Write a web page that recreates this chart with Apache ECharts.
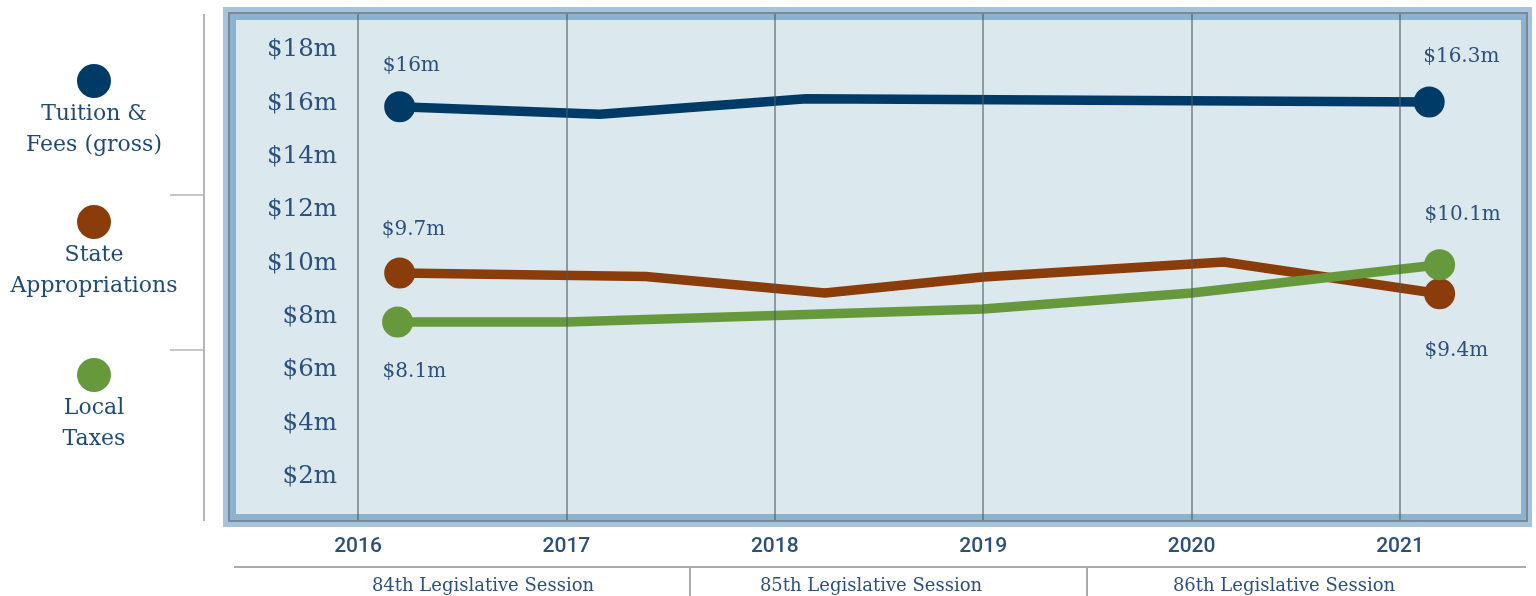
<!DOCTYPE html>
<html>
<head>
<meta charset="utf-8">
<script src="https://cdn.jsdelivr.net/npm/echarts@6/dist/echarts.min.js"></script>
<style>
  html, body { margin: 0; padding: 0; background: #ffffff; }
  #chart { width: 1536px; height: 596px; }
</style>
</head>
<body>
<div id="chart"></div>
<script>
// ---- data ----
const seriesNames = ['Tuition & Fees (gross)', 'State Appropriations', 'Local Taxes'];
const legendLines = [['Tuition &', 'Fees (gross)'], ['State', 'Appropriations'], ['Local', 'Taxes']];
const yearLabels = ['2016', '2017', '2018', '2019', '2020', '2021'];
const yTickLabels = ['$2m', '$4m', '$6m', '$8m', '$10m', '$12m', '$14m', '$16m', '$18m'];
const sessionLabels = ['84th Legislative Session', '85th Legislative Session', '86th Legislative Session'];

const tuitionYears = [2016.2, 2017.16, 2018.15, 2021.14];
const tuitionValues = [15.87, 15.59, 16.17, 16.05];
const tuitionEndLabels = ['$16m', '$16.3m'];

const stateYears = [2016.2, 2017.38, 2018.24, 2019.0, 2020.155, 2021.19];
const stateValues = [9.64, 9.51, 8.89, 9.49, 10.05, 8.86];
const stateEndLabels = ['$9.7m', '$9.4m'];

const localYears = [2016.19, 2017.0, 2019.0, 2020.0, 2021.19];
const localValues = [7.8, 7.8, 8.29, 8.89, 9.95];
const localEndLabels = ['$8.1m', '$10.1m'];

const colors = ['#003b68', '#8a3c0b', '#66993c'];
const textColor = '#2b4f7e';
const FONT = "'DejaVu Serif', 'Liberation Serif', serif";

function buildData(xs, ys, endLabels, firstOff, lastOff) {
  return xs.map((x, i) => {
    const isFirst = i === 0, isLast = i === xs.length - 1;
    const item = { value: [x, ys[i]] };
    if (isFirst || isLast) {
      item.symbol = 'circle';
      item.symbolSize = 31;
      item.label = {
        show: true,
        position: 'inside',
        align: 'left',
        verticalAlign: 'middle',
        offset: isFirst ? firstOff : lastOff,
        formatter: isFirst ? endLabels[0] : endLabels[1],
        color: textColor,
        fontFamily: FONT,
        fontSize: 20
      };
    } else {
      item.symbol = 'none';
      item.symbolSize = 0;
    }
    return item;
  });
}

const chart = echarts.init(document.getElementById('chart'), null, { renderer: 'canvas' });

function lineSeries(name, color, data) {
  return {
    name: name,
    type: 'line',
    xAxisIndex: 1,
    yAxisIndex: 1,
    clip: false,
    z: 2,
    data: data,
    itemStyle: { color: color },
    lineStyle: { color: color, width: 9.5, cap: 'round', join: 'round' },
    emphasis: { disabled: true },
    silent: true
  };
}

const legendY = [81, 222, 375];
const graphics = [
  // frame
  { type: 'rect', z: -10, silent: true, shape: { x: 223, y: 7, width: 1309, height: 520 }, style: { fill: '#a7c2db' } },
  { type: 'rect', z: -9, silent: true, shape: { x: 229, y: 13, width: 1298, height: 508 }, style: { fill: '#8cb2d1', stroke: '#7b8994', lineWidth: 2 } },
  { type: 'rect', z: -8, silent: true, shape: { x: 236, y: 20, width: 1285, height: 494 }, style: { fill: '#dbe8ee' } },
  // left legend rule
  { type: 'line', silent: true, shape: { x1: 204, y1: 14, x2: 204, y2: 521 }, style: { stroke: '#b3b5b7', lineWidth: 2 } },
  { type: 'line', silent: true, shape: { x1: 170, y1: 195, x2: 204, y2: 195 }, style: { stroke: '#b3b5b7', lineWidth: 1.5 } },
  { type: 'line', silent: true, shape: { x1: 170, y1: 350, x2: 204, y2: 350 }, style: { stroke: '#b3b5b7', lineWidth: 1.5 } },
  // session bracket
  { type: 'line', silent: true, shape: { x1: 234, y1: 567, x2: 1526, y2: 567 }, style: { stroke: '#a9acaf', lineWidth: 2 } },
  { type: 'line', silent: true, shape: { x1: 690, y1: 567, x2: 690, y2: 596 }, style: { stroke: '#a9acaf', lineWidth: 2 } },
  { type: 'line', silent: true, shape: { x1: 1087, y1: 567, x2: 1087, y2: 596 }, style: { stroke: '#a9acaf', lineWidth: 2 } }
];
const sessionX = [483, 871, 1284];
sessionLabels.forEach((s, i) => {
  graphics.push({ type: 'text', silent: true, x: sessionX[i], y: 586,
    style: { text: s, fill: textColor, font: '18px ' + FONT, textAlign: 'center', textVerticalAlign: 'middle' } });
});
legendLines.forEach((lines, i) => {
  graphics.push({ type: 'circle', silent: true, shape: { cx: 94, cy: legendY[i], r: 17 }, style: { fill: colors[i] } });
  lines.forEach((t, j) => {
    graphics.push({ type: 'text', silent: true, x: 94, y: legendY[i] + 33 + j * 31,
      style: { text: t, fill: '#1f4a78', font: '22px ' + FONT, textAlign: 'center', textVerticalAlign: 'middle' } });
  });
});

const option = {
  animation: false,
  backgroundColor: '#ffffff',
  grid: [
    { left: 358, right: 136, top: 14, bottom: 76 },
    // same x scale as grid 0 (208.4 px per year), extended half a year to the right
    { left: 358, right: 31.8, top: 50, bottom: 66 }
  ],
  xAxis: [
    {
      gridIndex: 0, type: 'value', min: 2016, max: 2021, interval: 1, z: 5,
      axisLine: { show: false }, axisTick: { show: false },
      splitLine: { show: true, lineStyle: { color: 'rgba(78,88,98,0.55)', width: 2 } },
      axisLabel: {
        margin: 16, color: textColor, fontFamily: 'Roboto, "DejaVu Sans", sans-serif', fontSize: 21, fontWeight: 500,
        showMinLabel: true, showMaxLabel: true,
        formatter: v => yearLabels[Math.round(v - 2016)] || ''
      }
    },
    {
      gridIndex: 1, type: 'value', min: 2016, max: 2021.5,
      show: false
    }
  ],
  yAxis: [
    { gridIndex: 0, type: 'value', min: 0, max: 1, show: false },
    {
      gridIndex: 1, type: 'value', min: 0, max: 18, interval: 2,
      axisLine: { show: false }, axisTick: { show: false }, splitLine: { show: false },
      axisLabel: {
        margin: 21, color: textColor, fontFamily: FONT, fontSize: 24.5,
        formatter: v => (v === 0 ? '' : yTickLabels[v / 2 - 1])
      }
    }
  ],
  graphic: { elements: graphics },
  series: [
    lineSeries(seriesNames[0], colors[0], buildData(tuitionYears, tuitionValues, tuitionEndLabels, [-17, -41], [-6, -45])),
    lineSeries(seriesNames[1], colors[1], buildData(stateYears, stateValues, stateEndLabels, [-18, -43], [-15, 57])),
    lineSeries(seriesNames[2], colors[2], buildData(localYears, localValues, localEndLabels, [-15, 50], [-15, -50]))
  ]
};
chart.setOption(option);
</script>
</body>
</html>
